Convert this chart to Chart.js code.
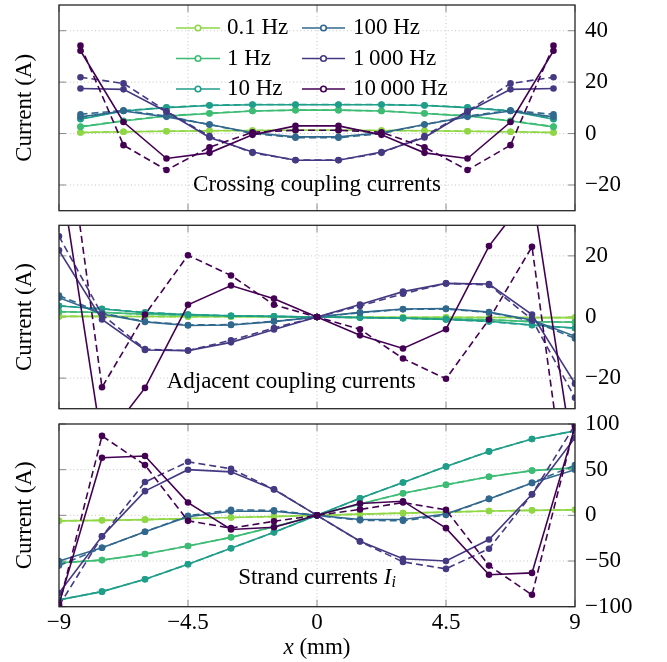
<!DOCTYPE html>
<html>
<head>
<meta charset="utf-8">
<script src="https://cdn.jsdelivr.net/npm/chart.js@4"></script>
<style>
  body { margin: 0; background: #fff; }
  #wrap { position: relative; width: 667px; height: 662px; overflow: hidden; }
  canvas { position: absolute; left: 0; }
</style>
</head>
<body>
<div id="wrap">
  <canvas id="c1" width="667" height="222" style="top:0px"></canvas>
  <canvas id="c2" width="667" height="200" style="top:214px"></canvas>
  <canvas id="c3" width="667" height="258" style="top:404px"></canvas>
</div>
<script>
// series labels and colours (0.1 Hz ... 10 000 Hz)
const labels = ['0.1 Hz', '1 Hz', '10 Hz', '100 Hz', '1\u2009000 Hz', '10\u2009000 Hz'];
const colors = ['#8fd744', '#3dbc74', '#1f9e89', '#31688e', '#443983', '#440154'];

// positions (mm)
const xCross = [-8.25, -6.75, -5.25, -3.75, -2.25, -0.75, 0.75, 2.25, 3.75, 5.25, 6.75, 8.25];
const xStrand = [-9, -7.5, -6, -4.5, -3, -1.5, 0, 1.5, 3, 4.5, 6, 7.5, 9];

// tick values
const xTicks = [-9, -4.5, 0, 4.5, 9];
const crossTicks = [-20, 0, 20, 40];
const adjTicks = [-20, 0, 20];
const strandTicks = [-100, -50, 0, 50, 100];

// crossing coupling currents (A), one row per frequency
const crossSolid = [
  [0.4, 0.7, 0.9, 1.1, 1.2, 1.3, 1.3, 1.2, 1.1, 0.9, 0.7, 0.4],
  [2.6, 4.9, 6.8, 7.8, 8.8, 9.1, 9.1, 8.8, 7.8, 6.8, 4.9, 2.6],
  [5.6, 8.8, 10.1, 10.9, 11.2, 11.2, 11.2, 11.2, 10.9, 10.1, 8.8, 5.6],
  [6.5, 8.8, 6.5, 3.5, 0.3, -1.3, -1.3, 0.3, 3.5, 6.5, 8.8, 6.5],
  [17.5, 17.2, 8.5, -1.5, -7.2, -10.4, -10.4, -7.2, -1.5, 8.5, 17.2, 17.5],
  [32.2, 4.5, -9.7, -7.5, -0.5, 3.0, 3.0, -0.5, -7.5, -9.7, 4.5, 32.2]
];
const crossDashed = [
  [0.4, 0.7, 0.9, 1.1, 1.2, 1.3, 1.3, 1.2, 1.1, 0.9, 0.7, 0.4],
  [2.7, 5.0, 6.9, 7.9, 8.8, 9.1, 9.1, 8.8, 7.9, 6.9, 5.0, 2.7],
  [5.8, 8.9, 10.2, 11.0, 11.3, 11.3, 11.3, 11.3, 11.0, 10.2, 8.9, 5.8],
  [7.5, 9.0, 6.8, 3.5, 0.0, -1.6, -1.6, 0.0, 3.5, 6.8, 9.0, 7.5],
  [21.9, 19.5, 8.7, -1.0, -7.5, -10.3, -10.3, -7.5, -1.0, 8.7, 19.5, 21.9],
  [34.2, -4.5, -14.2, -5.3, 0.5, 1.3, 1.3, 0.5, -5.3, -14.2, -4.5, 34.2]
];

// adjacent coupling currents (A)
const adjSolid = [
  [0.2, 0.2, 0.15, 0.1, 0.1, 0.05, 0, -0.05, -0.1, -0.1, -0.15, -0.2, -0.2],
  [1.7, 1.5, 0.9, 0.6, 0.35, 0.15, 0, -0.15, -0.35, -0.6, -0.9, -1.5, -1.7],
  [3.6, 2.6, 1.4, 0.8, 0.4, 0.2, 0, -0.2, -0.4, -0.8, -1.4, -2.6, -3.6],
  [6.3, 1.0, -1.6, -2.8, -2.6, -1.5, 0, 1.5, 2.6, 2.8, 1.6, -1.0, -6.3],
  [21.8, -0.8, -10.8, -11.0, -8.3, -4.1, 0, 4.1, 8.3, 11.0, 10.8, 0.8, -21.8],
  [50, -41.5, -23.2, 4.0, 10.3, 6.0, 0, -6.0, -10.3, -4.0, 23.2, 41.5, -50]
];
const adjDashed = [
  [0.2, 0.2, 0.15, 0.1, 0.1, 0.05, 0, -0.05, -0.1, -0.1, -0.15, -0.2, -0.2],
  [1.7, 1.5, 0.9, 0.6, 0.35, 0.15, 0, -0.15, -0.35, -0.6, -0.9, -1.5, -1.7],
  [3.7, 2.7, 1.5, 0.8, 0.4, 0.2, 0, -0.2, -0.4, -0.8, -1.5, -2.7, -3.7],
  [7.0, 1.3, -1.5, -2.6, -2.5, -1.4, 0, 1.4, 2.5, 2.6, 1.5, -1.3, -7.0],
  [26.4, 0.8, -10.5, -11.0, -7.6, -3.6, 0, 3.6, 7.6, 11.0, 10.5, -0.8, -26.4],
  [80, -23.0, 0.8, 20.2, 13.6, 4.0, 0, -4.0, -13.6, -20.2, -0.8, 23.0, -80]
];

// strand currents (A)
const strandSolid = [
  [-6, -5.5, -4.7, -3.5, -2.4, -1.3, 0, 1.3, 2.4, 3.5, 4.7, 5.5, 6],
  [-52, -49, -42.3, -33.5, -24.1, -12.4, 0, 12.4, 24.1, 33.5, 42.3, 49, 52],
  [-92.5, -83.5, -70, -53.5, -36, -18.6, 0, 18.6, 36, 53.5, 70, 83.5, 92.5],
  [-50, -35.5, -18, -1.5, 4.5, 4.5, 0, -4.5, -4.5, 1.5, 18, 35.5, 50],
  [-85, -23, 26.5, 50, 47.6, 28.3, 0, -28.3, -47.6, -50, -26.5, 23, 85],
  [-97, 63, 65, 14, -15.5, -13, 0, 13, 15.5, -14, -65, -63, 97]
];
const strandDashed = [
  [-6, -5.5, -4.7, -3.5, -2.4, -1.3, 0, 1.3, 2.4, 3.5, 4.7, 5.5, 6],
  [-52, -49, -42.3, -33.5, -24.1, -12.4, 0, 12.4, 24.1, 33.5, 42.3, 49, 52],
  [-92.5, -83.5, -70, -53.5, -36, -18.6, 0, 18.6, 36, 53.5, 70, 83.5, 92.5],
  [-55, -35.5, -18, -0.5, 6, 5.5, 0, -5.5, -6, 0.5, 18, 35.5, 55],
  [-99, -23, 36.5, 58.6, 51, 28.6, 0, -28.6, -51, -58.6, -36.5, 23, 99],
  [-99, 87, 55, -6, -14, -6.5, 0, 6.5, 14, 6, -55, -87, 99]
];

const SERIF = '"Liberation Serif", "Times New Roman", serif';
const fmt = v => (v < 0 ? '\u2212' + Math.abs(v) : String(v));

function makeDatasets(xs, solid, dashed) {
  const out = [];
  for (let i = 0; i < labels.length; i++) {
    [solid, dashed].forEach((rows, k) => {
      out.push({
        label: labels[i],
        data: xs.map((x, j) => ({ x: x, y: rows[i][j] })),
        borderColor: colors[i],
        backgroundColor: colors[i],
        borderWidth: 1.6,
        borderDash: k ? [7, 4] : [],
        pointRadius: 3.3,
        pointBorderWidth: 0,
        pointBackgroundColor: colors[i],
        tension: 0,
        order: 100 - out.length,
        dashed: !!k
      });
    });
  }
  return out;
}

function line(ctx, x1, y1, x2, y2) {
  ctx.beginPath(); ctx.moveTo(x1, y1); ctx.lineTo(x2, y2); ctx.stroke();
}

function decor(yTicks, note) {
  return {
    id: 'decor',
    beforeDatasetsDraw(chart) {
      const { ctx, chartArea: a, scales: { x, y } } = chart;
      ctx.save();
      ctx.strokeStyle = '#c4c4c4';
      ctx.lineWidth = 1;
      ctx.setLineDash([1, 2.6]);
      xTicks.forEach(v => {
        if (v > x.min && v < x.max) { const p = x.getPixelForValue(v); line(ctx, p, a.top, p, a.bottom); }
      });
      yTicks.forEach(v => {
        if (v > y.min && v < y.max) { const p = y.getPixelForValue(v); line(ctx, a.left, p, a.right, p); }
      });
      ctx.setLineDash([]);
      ctx.strokeStyle = '#8a8a8a';
      ctx.lineWidth = 1;
      xTicks.forEach(v => {
        const p = x.getPixelForValue(v);
        line(ctx, p, a.top, p, a.top + 7);
        line(ctx, p, a.bottom - 7, p, a.bottom);
      });
      yTicks.forEach(v => {
        const p = y.getPixelForValue(v);
        line(ctx, a.left, p, a.left + 7, p);
        line(ctx, a.right - 7, p, a.right, p);
      });
      ctx.restore();
    },
    afterDatasetsDraw(chart) {
      const { ctx, chartArea: a } = chart;
      ctx.save();
      ctx.strokeStyle = '#262626';
      ctx.lineWidth = 1.3;
      ctx.strokeRect(a.left, a.top, a.width, a.height);
      ctx.restore();
    },
    afterDraw(chart) {
      const { ctx, chartArea: a, scales: { x, y } } = chart;
      ctx.save();
      ctx.fillStyle = '#000';
      // y title on the left
      ctx.font = '23px ' + SERIF;
      ctx.translate(25, (a.top + a.bottom) / 2);
      ctx.rotate(-Math.PI / 2);
      ctx.textAlign = 'center';
      ctx.textBaseline = 'middle';
      ctx.fillText('Current (A)', 0, 0);
      ctx.restore();
      // panel caption
      ctx.save();
      ctx.fillStyle = '#000';
      ctx.textBaseline = 'middle';
      const px = x.getPixelForValue(note.x), py = y.getPixelForValue(note.y);
      const parts = note.parts;
      let w = 0;
      parts.forEach(p => { ctx.font = p.font; w += ctx.measureText(p.text).width; });
      let cx = px - w / 2;
      parts.forEach(p => {
        ctx.font = p.font;
        ctx.fillText(p.text, cx, py + (p.dy || 0));
        cx += ctx.measureText(p.text).width;
      });
      ctx.restore();
    }
  };
}

const legendPlugin = {
  id: 'legendBox',
  afterDraw(chart) {
    const ctx = chart.ctx;
    const rows = [28, 58.5, 89];
    const cols = [{ l0: 176, l1: 220, t: 227 }, { l0: 302, l1: 345, t: 353 }];
    const sets = chart.data.datasets.filter(d => !d.dashed);
    ctx.save();
    ctx.font = '23px ' + SERIF;
    ctx.textBaseline = 'middle';
    sets.forEach((d, i) => {
      const c = cols[Math.floor(i / 3)], yy = rows[i % 3];
      ctx.strokeStyle = d.borderColor;
      ctx.lineWidth = 1.6;
      line(ctx, c.l0, yy, c.l1, yy);
      ctx.beginPath();
      ctx.arc((c.l0 + c.l1) / 2, yy, 2.8, 0, Math.PI * 2);
      ctx.fillStyle = '#fff';
      ctx.fill();
      ctx.stroke();
      ctx.fillStyle = '#000';
      ctx.fillText(d.label, c.t, yy);
    });
    ctx.restore();
  }
};

const xTitle = {
  id: 'xTitle',
  afterDraw(chart) {
    const { ctx, scales: { x } } = chart;
    ctx.save();
    ctx.fillStyle = '#000';
    ctx.textBaseline = 'middle';
    ctx.font = 'italic 23px ' + SERIF;
    const w1 = ctx.measureText('x').width;
    ctx.font = '23px ' + SERIF;
    const w2 = ctx.measureText(' (mm)').width;
    let cx = x.getPixelForValue(0) - (w1 + w2) / 2;
    const cy = chart.height - 14;
    ctx.font = 'italic 23px ' + SERIF;
    ctx.fillText('x', cx, cy);
    ctx.font = '23px ' + SERIF;
    ctx.fillText(' (mm)', cx + w1, cy);
    ctx.restore();
  }
};

function makeChart(id, xs, solid, dashed, yMin, yMax, yTicks, pad, showX, note, extra) {
  return new Chart(document.getElementById(id), {
    type: 'line',
    data: { datasets: makeDatasets(xs, solid, dashed) },
    options: {
      responsive: false,
      animation: false,
      layout: { padding: { top: pad[0], bottom: pad[1], left: 59, right: 0 } },
      plugins: { legend: { display: false }, tooltip: { enabled: false } },
      scales: {
        x: {
          type: 'linear', min: -9, max: 9, display: showX,
          afterBuildTicks: s => { s.ticks = xTicks.map(v => ({ value: v })); },
          afterFit: s => { s.height = showX ? 55.3 : 0; s.paddingLeft = 0; s.paddingRight = 0; },
          grid: { display: false, drawTicks: false },
          border: { display: false },
          ticks: { color: '#000', font: { family: SERIF, size: 23 }, padding: 2, maxRotation: 0, autoSkip: false, callback: fmt }
        },
        y: {
          type: 'linear', position: 'right', min: yMin, max: yMax,
          afterBuildTicks: s => { s.ticks = yTicks.map(v => ({ value: v })); },
          afterFit: s => { s.width = 92; s.paddingTop = 0; s.paddingBottom = 0; },
          grid: { display: false, drawTicks: false },
          border: { display: false },
          ticks: { color: '#000', font: { family: SERIF, size: 23 }, padding: 10, callback: fmt }
        }
      }
    },
    plugins: [decor(yTicks, note)].concat(extra)
  });
}

const plain = '23px ' + SERIF;
const ital = 'italic 23px ' + SERIF;

makeChart('c1', xCross, crossSolid, crossDashed, -30, 50, crossTicks, [5, 11.3], false,
  { x: 0, y: -20, parts: [{ text: 'Crossing coupling currents', font: plain }] }, [legendPlugin]);
makeChart('c2', xStrand, adjSolid, adjDashed, -30, 30, adjTicks, [11.3, 5.3], false,
  { x: -0.9, y: -21.3, parts: [{ text: 'Adjacent coupling currents', font: plain }] }, []);
makeChart('c3', xStrand, strandSolid, strandDashed, -100, 100, strandTicks, [20, 0], true,
  { x: 0, y: -68.6, parts: [{ text: 'Strand currents ', font: plain }, { text: 'I', font: ital }, { text: 'i', font: 'italic 16px ' + SERIF, dy: 5 }] }, [xTitle]);
</script>
</body>
</html>
